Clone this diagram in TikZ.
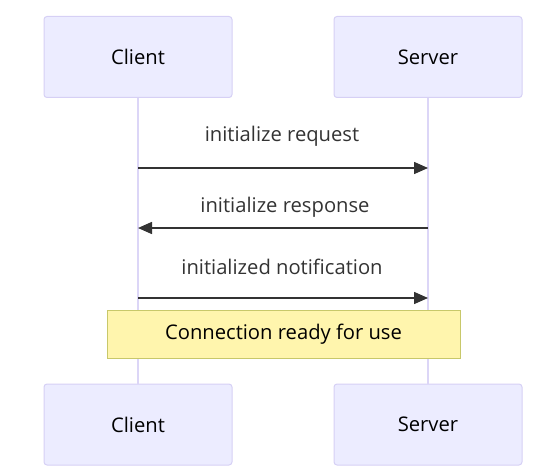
\documentclass[tikz,border=0pt]{standalone}
\usepackage{fontspec}
\setmainfont{Open Sans}
\usetikzlibrary{arrows.meta}
\definecolor{actfill}{HTML}{ECECFF}
\definecolor{actdraw}{HTML}{D6D0F5}
\definecolor{lifeline}{HTML}{DCD6F7}
\definecolor{notefill}{HTML}{FFF5AD}
\definecolor{notedraw}{HTML}{C8C86A}
\definecolor{txt}{HTML}{333333}
\tikzset{
  lbl/.style={font=\fontsize{20.2}{24}\selectfont},
  actor/.style={lbl, draw=actdraw, fill=actfill, line width=1pt, rounded corners=3pt, minimum width=188pt, minimum height=81pt, inner sep=0pt, text=black},
  life/.style={draw=lifeline, line width=1.5pt},
  msg/.style={draw=txt, line width=1.5pt, -{Triangle[length=14pt,width=12pt]}},
  msglabel/.style={lbl, text=txt, inner sep=0pt},
  note/.style={lbl, draw=notedraw, fill=notefill, line width=1pt, minimum width=353pt, minimum height=48pt, inner sep=0pt, text=black}
}
\begin{document}
\begin{tikzpicture}[x=1pt,y=-1pt]
\useasboundingbox (0,0) rectangle (553,473);
\node[actor] (ct) at (138,57) {Client};
\node[actor] (st) at (428,57) {Server};
\node[actor] (cb) at (138,424.5) {Client};
\node[actor] (sb) at (428,424.5) {Server};
\draw[life] (ct.south) -- (cb.north);
\draw[life] (st.south) -- (sb.north);
\coordinate (c1) at (138,168); \coordinate (s1) at (428,168);
\coordinate (c2) at (138,228); \coordinate (s2) at (428,228);
\coordinate (c3) at (138,298); \coordinate (s3) at (428,298);
\draw[msg] (c1) -- (s1);
\draw[msg] (s2) -- (c2);
\draw[msg] (c3) -- (s3);
\node[msglabel] (l1) at (282,136) {initialize request};
\node[msglabel] (l2) at (285,207) {initialize response};
\node[msglabel] (l3) at (282,267) {initialized notification};
\node[note] (n) at (283.5,334) {Connection ready for use};
\end{tikzpicture}
\end{document}
